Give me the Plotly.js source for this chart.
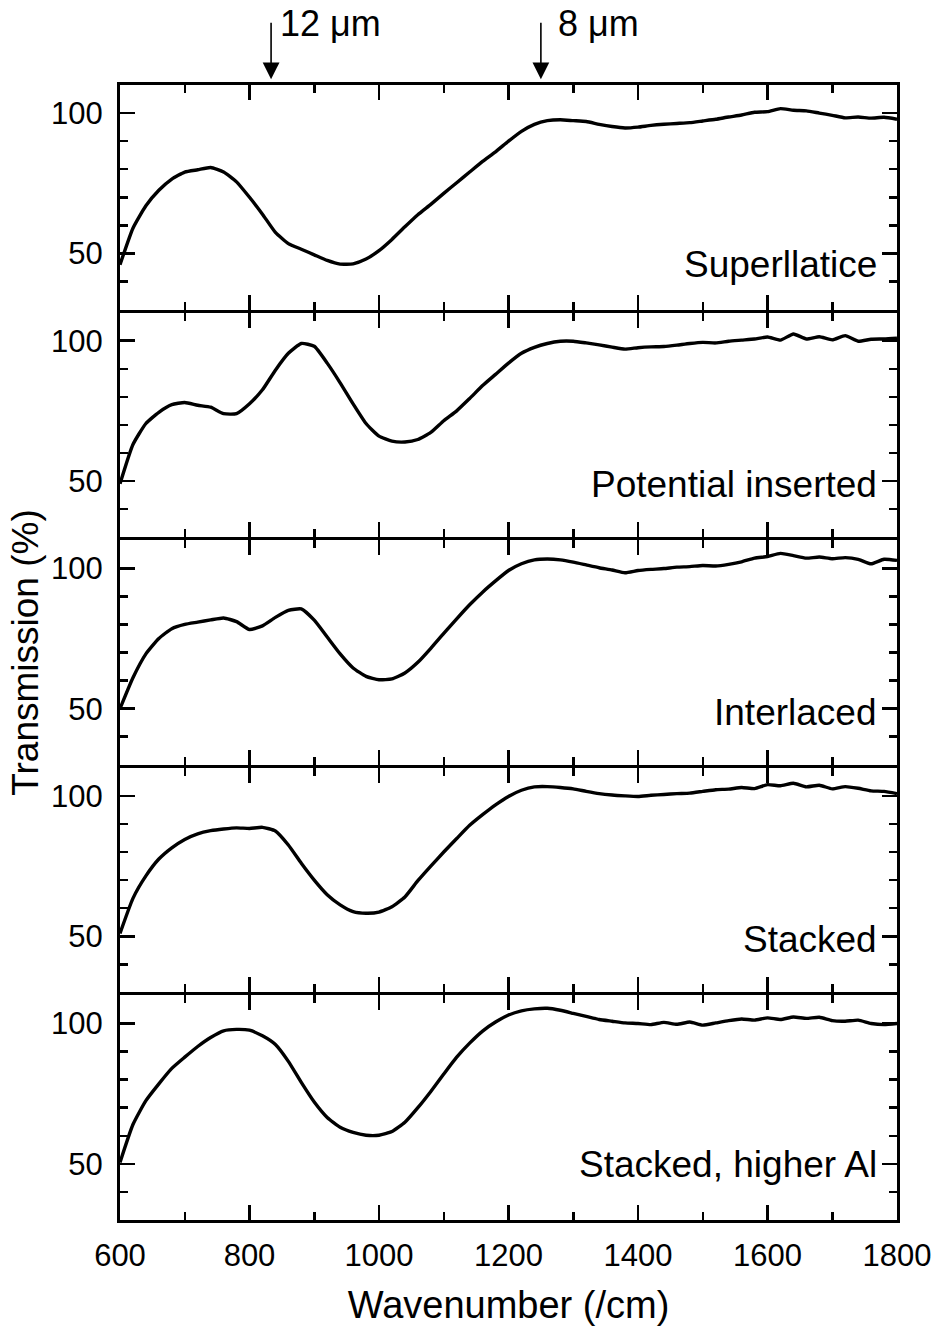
<!DOCTYPE html>
<html>
<head>
<meta charset="utf-8">
<script src="https://cdn.plot.ly/plotly-3.0.1.min.js"></script>
<style>html,body{margin:0;padding:0;background:#fff;}#chart{width:935px;height:1326px;}</style>
</head>
<body>
<div id="chart"></div>
<script>
// Wavenumber (/cm)
const wavenumber = [600,620,640,660,680,700,720,740,760,780,800,820,840,860,880,900,920,940,960,980,
  1000,1020,1040,1060,1080,1100,1120,1140,1160,1180,1200,1220,1240,1260,1280,1300,1320,1340,1360,1380,
  1400,1420,1440,1460,1480,1500,1520,1540,1560,1580,1600,1620,1640,1660,1680,1700,1720,1740,1760,1780,1800];

// Transmission (%) per sample
const superlattice = [46,59,67,72.5,76.5,79,79.8,80.6,79,75.5,70,64,57.5,53.5,51.5,49.5,47.5,46.2,46.3,48,
  51,55,59.5,63.8,67.5,71.4,75.2,79,82.8,86.2,90,93.5,96,97.3,97.6,97.3,97,96,95.2,94.7,
  95,95.6,96,96.3,96.6,97.2,97.8,98.6,99.3,100.3,100.5,101.6,101,100.8,100,99.2,98.3,98.6,98.2,98.5,97.8];

const potentialInserted = [49,63,70.5,74.5,77.2,78,77,76.3,74,74,77.5,82.5,89.5,95.5,99,98,92,85,77.5,70.5,
  66,64.2,63.9,64.8,67.3,71.5,75,79.4,84,88,92,95.5,97.6,99,99.8,99.8,99.2,98.5,97.7,97,
  97.5,97.8,97.9,98.4,99,99.4,99.2,99.8,100.2,100.6,101.3,100.2,102.4,100.6,101.4,100.3,101.8,99.8,100.5,100.6,100.9];

const interlaced = [50,61,69.5,75,78.5,80,80.8,81.6,82.3,81,78.2,79.5,82.5,85,85.5,81.5,75.5,69.5,64.5,61.5,
  60.3,60.6,62.7,66.5,71.5,76.8,82,87,91.5,95.5,99.2,101.6,103,103.3,103,102.2,101.2,100.2,99.4,98.4,
  99.2,99.6,99.9,100.4,100.6,101,100.8,101.4,102.3,103.6,104.2,105.3,104.5,103.6,104,103.4,103.8,103.2,101.6,103.2,102.8];

const stacked = [51,63.5,71.5,77.5,81.5,84.5,86.5,87.6,88.2,88.6,88.4,88.8,87.5,82.5,76,70,64.8,61.2,58.8,58.2,
  58.6,60.5,64,69.8,75,80,84.8,89.5,93.3,96.8,99.8,102,103.2,103.3,103,102.5,101.6,100.8,100.3,100,
  99.8,100.2,100.5,100.8,101,101.6,102.2,102.4,103,102.6,104,103.6,104.5,103.2,103.8,102.5,103.3,102.7,101.8,101.6,100.8];

const stackedHigherAl = [50.5,64,72.5,78.5,84,88,91.8,95,97.4,97.9,97.6,95.6,92.5,86.5,79,72,66.5,63,61.2,60.2,
  60.2,61.5,64.8,70,75.8,82,88,93,97.3,100.5,103,104.5,105.2,105.4,104.7,103.6,102.5,101.4,100.8,100.2,
  100,99.6,100.4,99.7,100.5,99.4,100.2,101,101.6,101.2,102,101.4,102.3,101.8,102.2,101,100.8,101.2,100,99.6,100];

const sampleNames = ['Superllatice','Potential inserted','Interlaced','Stacked','Stacked, higher Al'];
const seriesList = [superlattice, potentialInserted, interlaced, stacked, stackedHigherAl];

// Wavelength markers
const markerLabels = ['12 \u03bcm','8 \u03bcm'];
const markerWavelengthsUm = [12, 8];

const FONT = 'Liberation Sans, Arial, Helvetica, sans-serif';
const N = 5;
const labelY = [46, 48.6, 48.8, 49, 49.6];   // label placement within each panel
const markerShift = [7, 15];
const H = 1326 - 85 - 106;
const gap = 3 / H;
const ph = (1 - 4 * gap) / N;

const traces = [];
const layout = {
  width: 935, height: 1326,
  margin: {l: 120, r: 38, t: 85, b: 106},
  paper_bgcolor: '#fff', plot_bgcolor: 'rgba(0,0,0,0)',
  showlegend: false,
  font: {family: FONT, color: '#000', size: 31},
  annotations: []
};

for (let i = 0; i < N; i++) {
  const k = i + 1;
  const xs = k === 1 ? 'x' : 'x' + k;
  const ys = k === 1 ? 'y' : 'y' + k;
  traces.push({
    x: wavenumber, y: seriesList[i], xaxis: xs, yaxis: ys,
    type: 'scatter', mode: 'lines',
    line: {color: '#000', width: 3.4, shape: 'spline', smoothing: 0.5},
    hoverinfo: 'skip'
  });
  const xa = {
    anchor: ys, domain: [0, 1], range: [600, 1800],
    tickmode: 'linear', tick0: 600, dtick: 200, ticks: 'inside', ticklen: 15, tickwidth: 2.5, tickcolor: '#000',
    minor: {tickmode: 'linear', dtick: 100, tick0: 600, ticks: 'inside', ticklen: 8, tickwidth: 2.5, tickcolor: '#000'},
    mirror: 'allticks', showline: true, linewidth: 3, linecolor: '#000',
    showgrid: false, zeroline: false,
    showticklabels: k === N,
    ticklabelstandoff: 6,
    tickfont: {family: FONT, size: 31, color: '#000'}
  };
  if (k === N) {
    xa.title = {text: 'Wavenumber (/cm)', font: {family: FONT, size: 38, color: '#000'}, standoff: 20};
  }
  const top = 1 - i * (ph + gap), bot = top - ph;
  const ya = {
    anchor: xs, domain: [Math.max(0, bot), Math.min(1, top)], range: [30, 110],
    tickmode: 'linear', tick0: 0, dtick: 50, ticks: 'inside', ticklen: 15, tickwidth: 2.5, tickcolor: '#000',
    minor: {tickmode: 'linear', dtick: 10, tick0: 0, ticks: 'inside', ticklen: 8, tickwidth: 2.5, tickcolor: '#000'},
    mirror: 'allticks', showline: true, linewidth: 3, linecolor: '#000',
    showgrid: false, zeroline: false,
    ticklabelstandoff: 8,
    tickfont: {family: FONT, size: 31, color: '#000'}
  };
  if (k === 3) {
    ya.title = {text: 'Transmission (%)', font: {family: FONT, size: 37, color: '#000'}, standoff: 2};
  }
  layout[k === 1 ? 'xaxis' : 'xaxis' + k] = xa;
  layout[k === 1 ? 'yaxis' : 'yaxis' + k] = ya;

  layout.annotations.push({
    xref: xs, yref: ys, x: 1772, y: labelY[i], xanchor: 'right', yanchor: 'middle',
    text: sampleNames[i], showarrow: false,
    font: {family: FONT, size: 37, color: '#000'}
  });
}

// Arrows marking wavelengths (wavenumber = 10000 / wavelength in um)
markerWavelengthsUm.forEach((um, j) => {
  const wn = 10000 / um;
  layout.annotations.push({
    xref: 'x', yref: 'paper', x: wn, y: 1.005, text: '',
    showarrow: true, ax: 0, ay: -58, arrowhead: 2, arrowsize: 2.1, arrowwidth: 1.6,
    arrowcolor: '#000', standoff: 0
  });
  layout.annotations.push({
    xref: 'x', yref: 'paper', x: wn, y: 1.054, xanchor: 'left', yanchor: 'middle',
    xshift: markerShift[j], text: markerLabels[j], showarrow: false,
    font: {family: FONT, size: 36, color: '#000'}
  });
});

Plotly.newPlot('chart', traces, layout, {staticPlot: true, displayModeBar: false});
</script>
</body>
</html>
